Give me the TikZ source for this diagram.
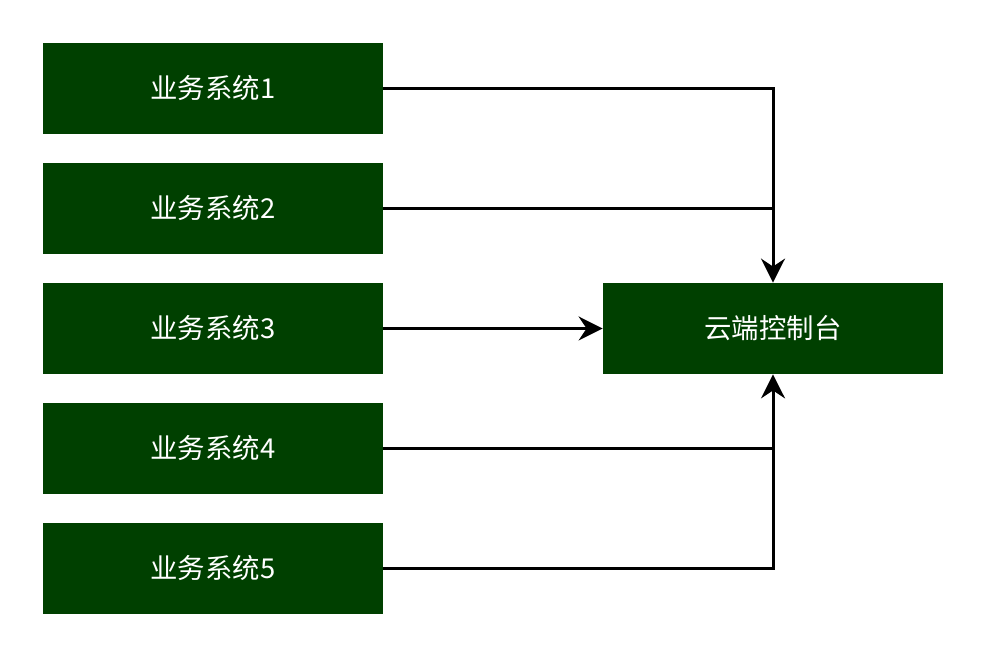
\documentclass[tikz,border=0pt]{standalone}
\usepackage{fontspec}
\setmainfont{Noto Sans CJK SC}
\usepackage{tikz}
\usetikzlibrary{positioning}
\usetikzlibrary{arrows.meta}

\definecolor{boxgreen}{RGB}{0,64,0}

\begin{document}
\begin{tikzpicture}[x=0.5pt, y=-0.5pt]
    \useasboundingbox (0, 0) rectangle (984, 656);
    \begin{scope}[every node/.style={fill=boxgreen, rectangle,
        text=white, font=\fontsize{13.7pt}{16pt}\selectfont,
        minimum height=45.5pt, minimum width=170pt,
        inner sep=0pt
        }]
        \node (sys1)at (213, 88.5){业务系统1};
        \node (sys2)at (213, 208.5){业务系统2};
        \node (sys3)at (213, 328.5){业务系统3};
        \node (sys4)at (213, 448.5){业务系统4};
        \node (sys5)at (213, 568.5){业务系统5};
        \node (cloud)at (773, 328.5){云端控制台};
    \end{scope}
    \begin{scope}[line width=1.5pt, >={Stealth[length=12pt, width=12pt, inset=4pt]}]
        % top branch
        \draw[->] (sys1.east) -| (cloud.north);
        \draw (sys2.east) -- (sys2.east -| cloud.north);
        % straight one
        \draw[->] (sys3.east) -- (cloud.west);
        % bottom branch
        \draw (sys4.east) -- (sys4.east -| cloud.south);
        \draw[->] (sys5.east) -| (cloud.south);
    \end{scope}
\end{tikzpicture}
\end{document}
